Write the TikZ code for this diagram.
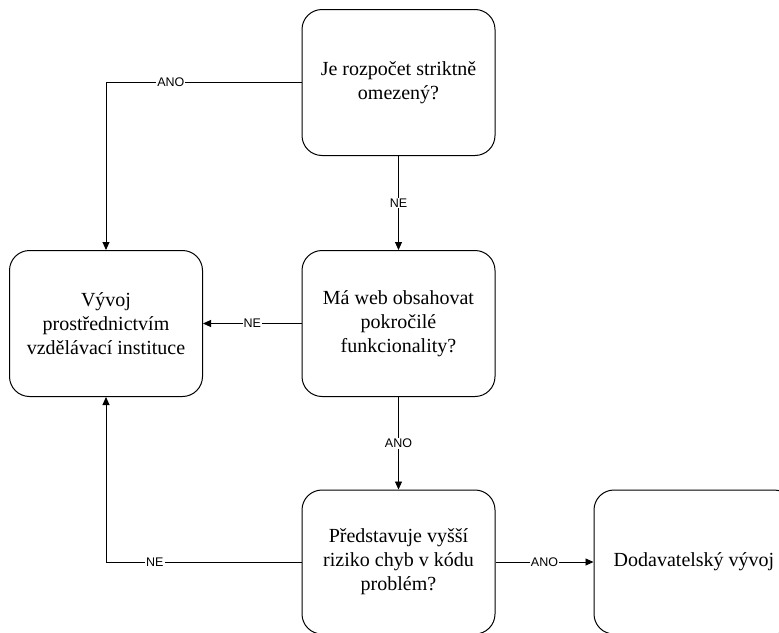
\documentclass[tikz,border=0pt]{standalone}
\usepackage{fontspec}
\setmainfont{Liberation Serif}
\newfontfamily\labelfont{Liberation Sans}
\usetikzlibrary{arrows.meta}

\tikzset{
  box/.style={draw=black, line width=1pt, rounded corners=20pt,
    minimum width=193pt, minimum height=146pt, align=center,
    font=\fontsize{20}{24}\selectfont, inner sep=2pt},
  link/.style={draw=black, line width=0.9pt},
  arr/.style={link, -{Triangle[length=8pt,width=7pt]}},
  lbl/.style={fill=white, inner sep=1pt, font=\labelfont\fontsize{12.5}{14}\selectfont}
}

\begin{document}
\begin{tikzpicture}[x=1pt, y=-1pt]
  \useasboundingbox (0,0) rectangle (779,632);
  \clip (0,0) rectangle (779,632);

  % decision and outcome boxes
  \node[box] (budget) at (398.5,82.5) {Je rozpočet striktně\\omezený?};
  \node[box] (web)    at (398.5,323.5) {Má web obsahovat\\pokročilé\\funkcionality?};
  \node[box] (school) at (106,323.5) {Vývoj\\prostřednictvím\\vzdělávací instituce};
  \node[box, minimum height=144pt] (risk) at (398.5,562) {Představuje vyšší\\riziko chyb v kódu\\problém?};
  \node[box, minimum height=144pt, minimum width=200pt] (vendor) at (694,562) {Dodavatelský vývoj};

  % connectors
  \draw[arr] (budget.west) -| node[lbl, pos=0.334] {ANO} (school.north);
  \draw[arr] (budget.south) -- node[lbl, pos=0.5] {NE} (web.north);
  \draw[arr] (web.west) -- node[lbl, pos=0.5] {NE} (school.east);
  \draw[arr] (web.south) -- node[lbl, pos=0.5] {ANO} (risk.north);
  \draw[arr] (risk.west) -| node[lbl, pos=0.375] {NE} (school.south);
  \draw[arr] (risk.east) -- node[lbl, pos=0.5] {ANO} (vendor.west);
\end{tikzpicture}
\end{document}
